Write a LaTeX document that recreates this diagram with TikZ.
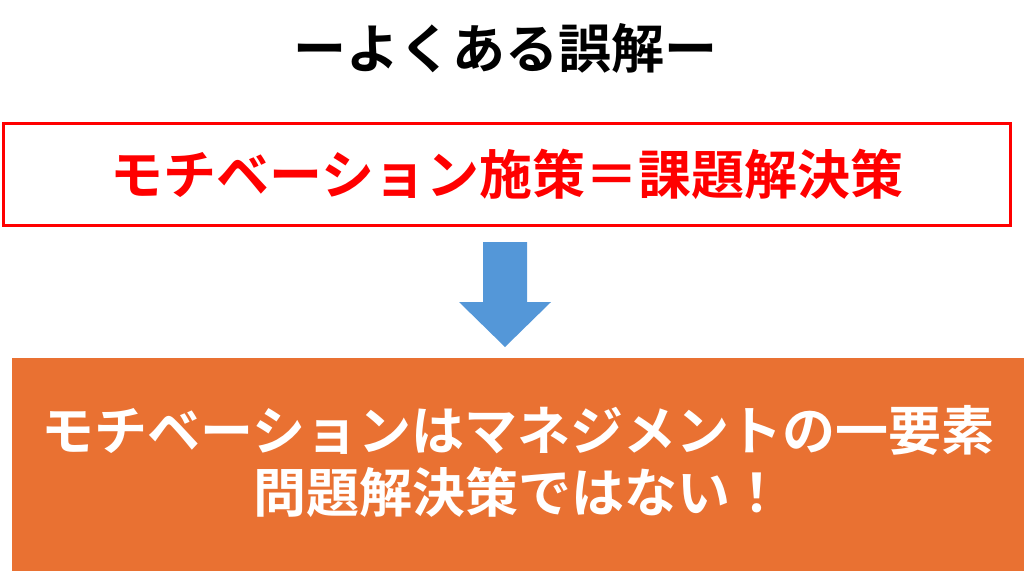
\documentclass[tikz,border=0pt]{standalone}
\usepackage{fontspec}
\newfontfamily\jpfont{Noto Sans CJK JP}[BoldFont={Noto Sans CJK JP Bold}]
\definecolor{mistakered}{RGB}{255,0,0}
\definecolor{arrowblue}{RGB}{84,151,216}
\definecolor{answerorange}{RGB}{233,113,50}
\tikzset{
    jptext/.style={font=\jpfont\bfseries\fontsize{53}{62}\selectfont, inner sep=0pt},
}
\begin{document}
\begin{tikzpicture}[x=1pt, y=-1pt]
        \useasboundingbox (0,0) rectangle (1024,571);

        % title
        \node[jptext] (title) at (505,48) {ーよくある誤解ー};

        % mistaken belief
        \node[draw=mistakered, line width=3pt, minimum width=1007pt, minimum height=102pt,
              jptext, text=mistakered] (belief) at (507,174) {モチベーション施策＝課題解決策};

        % block arrow
        \fill[arrowblue] (483,242) -- (527,242) -- (527,302) -- (551,302)
            -- (505,347) -- (459,302) -- (483,302) -- cycle;

        % answer
        \fill[answerorange] (12,358) rectangle (1024,571);
        \node[jptext, text=white, align=center] (answer) at (518,461)
            {モチベーションはマネジメントの一要素\\問題解決策ではない！};
    \end{tikzpicture}
\end{document}
